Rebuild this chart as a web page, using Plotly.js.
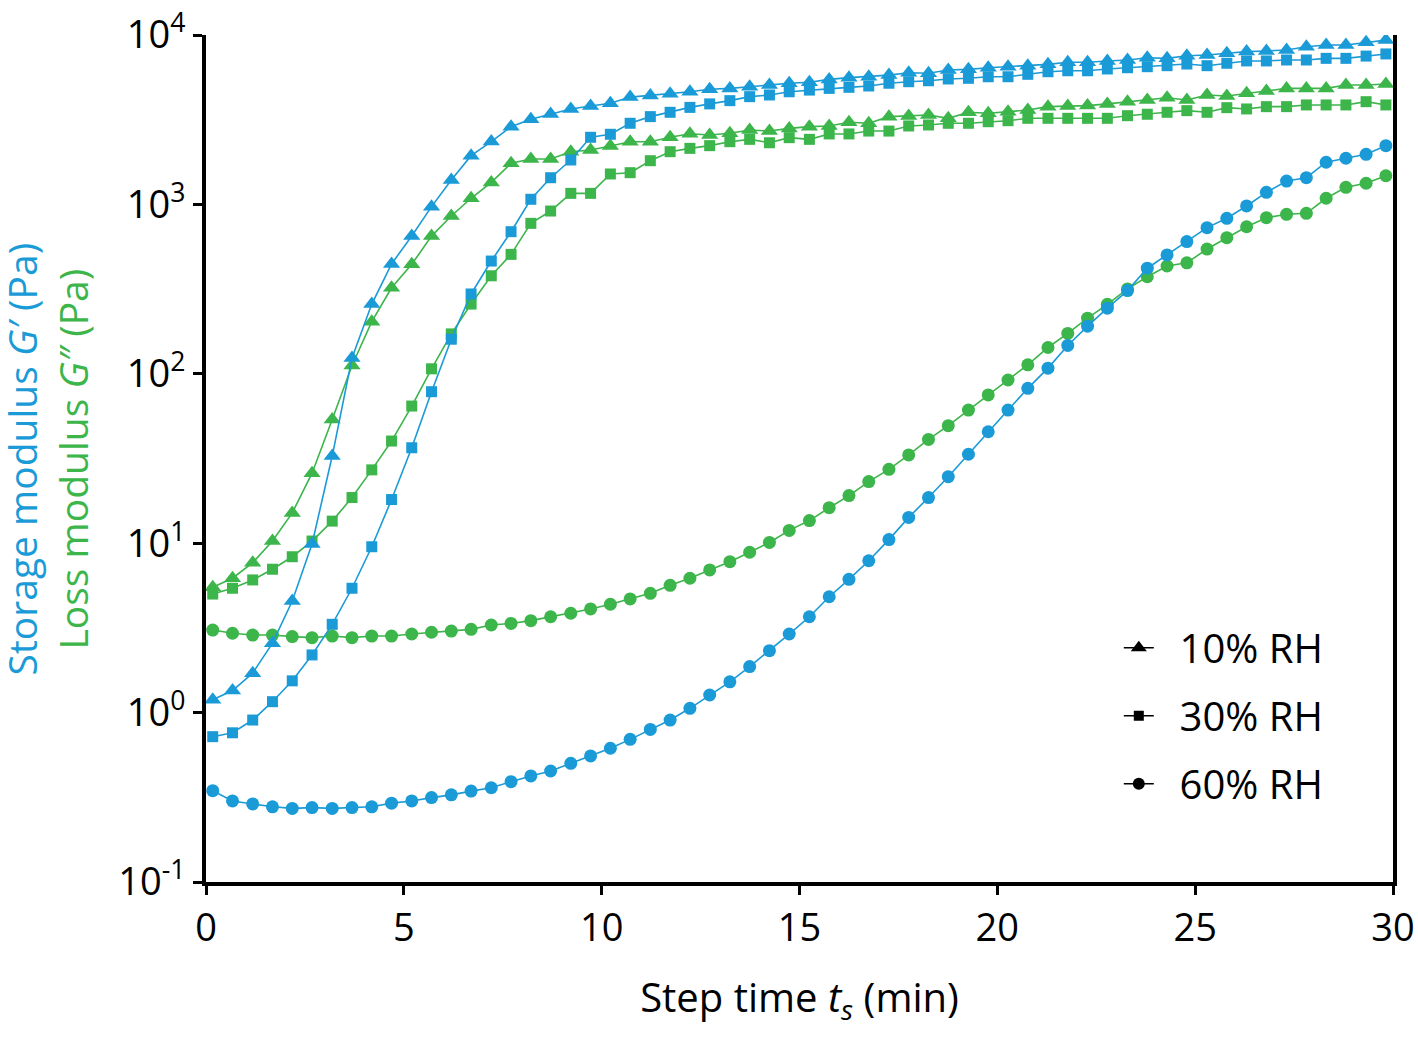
<!DOCTYPE html>
<html>
<head>
<meta charset="utf-8">
<script src="https://cdn.plot.ly/plotly-3.0.1.min.js"></script>
<style>
  body { margin: 0; background: #fff; }
  #chart { width: 1418px; height: 1042px; }
</style>
</head>
<body>
<div id="chart"></div>
<script>
// step time (min)
var stepTime = [0.17, 0.67, 1.18, 1.68, 2.18, 2.68, 3.19, 3.69, 4.19, 4.69,
  5.20, 5.70, 6.20, 6.70, 7.21, 7.71, 8.21, 8.71, 9.22, 9.72,
  10.22, 10.72, 11.23, 11.73, 12.23, 12.73, 13.24, 13.74, 14.24, 14.74,
  15.25, 15.75, 16.25, 16.75, 17.26, 17.76, 18.26, 18.76, 19.27, 19.77,
  20.27, 20.77, 21.28, 21.78, 22.28, 22.78, 23.29, 23.79, 24.29, 24.79,
  25.30, 25.80, 26.30, 26.80, 27.31, 27.81, 28.31, 28.81, 29.32, 29.82];

// storage modulus G' (Pa)
var gp10 = [1.19, 1.35, 1.71, 2.57, 4.56, 9.89, 32.7, 124, 258, 445,
  651, 970, 1393, 1940, 2350, 2877, 3180, 3420, 3660, 3810,
  3950, 4300, 4400, 4500, 4624, 4780, 4840, 4950, 5070, 5190,
  5260, 5470, 5600, 5670, 5800, 5990, 5940, 6210, 6270, 6410,
  6500, 6590, 6710, 6900, 6900, 7030, 7120, 7340, 7280, 7550,
  7620, 7800, 7980, 8050, 8150, 8530, 8730, 8730, 9060, 9330];
var gp30 = [0.721, 0.76, 0.904, 1.16, 1.54, 2.19, 3.32, 5.42, 9.53, 18.1,
  36.6, 78.4, 160, 296, 463, 690, 1072, 1437, 1829, 2490,
  2594, 3012, 3297, 3497, 3738, 3920, 4097, 4325, 4425, 4624,
  4730, 4840, 4910, 5000, 5190, 5300, 5370, 5500, 5550, 5670,
  5670, 5860, 6070, 6150, 6150, 6300, 6410, 6500, 6590, 6740,
  6590, 6810, 7030, 7030, 7120, 7120, 7280, 7280, 7510, 7730];
var gp60 = [0.346, 0.301, 0.289, 0.278, 0.272, 0.275, 0.272, 0.275, 0.278, 0.292,
  0.301, 0.315, 0.327, 0.344, 0.360, 0.391, 0.423, 0.452, 0.502, 0.555,
  0.616, 0.695, 0.796, 0.904, 1.06, 1.27, 1.52, 1.87, 2.32, 2.91,
  3.68, 4.83, 6.12, 7.88, 10.5, 14.2, 18.6, 24.7, 33.5, 45.5,
  61.1, 82.1, 108, 147, 191, 244, 310, 420, 503, 603,
  729, 828, 979, 1178, 1374, 1438, 1774, 1872, 1976, 2222];

// loss modulus G'' (Pa)
var gpp10 = [5.49, 6.21, 7.67, 10.3, 15.1, 25.9, 53.8, 112, 203, 322,
  443, 650, 854, 1087, 1349, 1749, 1853, 1853, 2047, 2094,
  2212, 2345, 2345, 2490, 2610, 2570, 2630, 2750, 2710, 2810,
  2877, 2904, 3055, 3012, 3297, 3326, 3373, 3222, 3497, 3450,
  3526, 3606, 3776, 3810, 3830, 3920, 4040, 4130, 4260, 4130,
  4425, 4365, 4530, 4670, 4840, 4840, 4840, 5070, 5070, 5140];
var gpp30 = [5.01, 5.42, 6.07, 7.02, 8.32, 10.3, 13.5, 18.6, 27.1, 40.1,
  64.5, 107, 172, 258, 379, 507, 773, 914, 1162, 1162,
  1512, 1539, 1811, 2047, 2142, 2222, 2345, 2421, 2312, 2477,
  2421, 2606, 2606, 2710, 2710, 2904, 2943, 3012, 3012, 3077,
  3120, 3222, 3222, 3222, 3222, 3222, 3340, 3405, 3497, 3576,
  3497, 3724, 3660, 3776, 3776, 3865, 3865, 3865, 4040, 3865];
var gpp60 = [3.07, 2.94, 2.87, 2.87, 2.81, 2.77, 2.83, 2.77, 2.83, 2.83,
  2.91, 2.98, 3.03, 3.10, 3.29, 3.36, 3.49, 3.68, 3.86, 4.09,
  4.36, 4.69, 5.06, 5.64, 6.21, 6.95, 7.78, 8.84, 10.1, 11.9,
  13.6, 16.2, 19.1, 23.1, 27.3, 33.2, 41.0, 49.4, 61.1, 75.0,
  91.9, 113, 143, 173, 213, 257, 317, 374, 433, 452,
  545, 636, 738, 835, 874, 886, 1087, 1262, 1333, 1476];

var humidity = ['10% RH', '30% RH', '60% RH'];
var yTicks = [0.1, 1, 10, 100, 1000, 10000];
var yTickText = ['10<sup>-1</sup>', '10<sup>0</sup>', '10<sup>1</sup>', '10<sup>2</sup>', '10<sup>3</sup>', '10<sup>4</sup>'];
var xTicks = [0, 5, 10, 15, 20, 25, 30];

var blue = '#1a9bd7';
var green = '#3cb54a';
var symbols = ['triangle-up', 'square', 'circle'];
var sizes = [15, 11, 13];

function series(y, color, k) {
  return {
    x: stepTime, y: y,
    type: 'scatter', mode: 'lines+markers',
    line: {color: color, width: 1.6},
    marker: {symbol: symbols[k], size: sizes[k], color: color},
    showlegend: false, hoverinfo: 'skip'
  };
}

var traces = [
  series(gpp10, green, 0), series(gpp30, green, 1), series(gpp60, green, 2),
  series(gp10, blue, 0), series(gp30, blue, 1), series(gp60, blue, 2)
];

// black legend keys, a little gap before the text
humidity.forEach(function (name, k) {
  traces.push({
    x: [null], y: [null], name: '\u00a0\u00a0' + name,
    type: 'scatter', mode: 'lines+markers',
    legendgroup: name,
    line: {color: '#000', width: 1.6},
    marker: {symbol: symbols[k], size: sizes[k] - 1, color: '#000'}
  });
});

var fontFam = '"Open Sans", sans-serif';

// two-colour y title, placed as an annotation so it can sit further out
var yTitle = '<span style="color:' + blue + '">Storage modulus <i>G′</i> (Pa)</span><br>' +
             '<span style="color:' + green + '">Loss modulus <i>G″</i> (Pa)</span>';

var layout = {
  width: 1418, height: 1042,
  margin: {l: 206, r: 25, t: 35, b: 160},
  paper_bgcolor: '#fff', plot_bgcolor: '#fff',
  font: {family: fontFam, size: 38, color: '#000'},
  xaxis: {
    range: [0, 30],
    tickvals: xTicks,
    ticks: 'outside', ticklen: 9, tickwidth: 3, tickcolor: '#000',
    showline: true, linewidth: 4, linecolor: '#000',
    showgrid: false, zeroline: false,
    tickfont: {size: 38},
    title: {text: 'Step time <i>t<sub>s</sub></i> (min)', font: {size: 40}, standoff: 34}
  },
  yaxis: {
    type: 'log', range: [-1, 4],
    tickvals: yTicks, ticktext: yTickText,
    ticks: 'outside', ticklen: 9, tickwidth: 3, tickcolor: '#000',
    showline: true, linewidth: 4, linecolor: '#000', mirror: true,
    showgrid: false, zeroline: false,
    tickfont: {size: 38}
  },
  annotations: [{
    text: yTitle, xref: 'paper', yref: 'paper',
    x: -0.134, y: 0.5, xanchor: 'center', yanchor: 'middle',
    textangle: -90, showarrow: false,
    font: {size: 39}
  }],
  legend: {
    x: 0.769, y: 0.315, xanchor: 'left', yanchor: 'top',
    font: {size: 40, color: '#000'},
    bgcolor: 'rgba(0,0,0,0)',
    traceorder: 'grouped', tracegroupgap: 13
  }
};

Plotly.newPlot('chart', traces, layout, {staticPlot: true});
</script>
</body>
</html>
